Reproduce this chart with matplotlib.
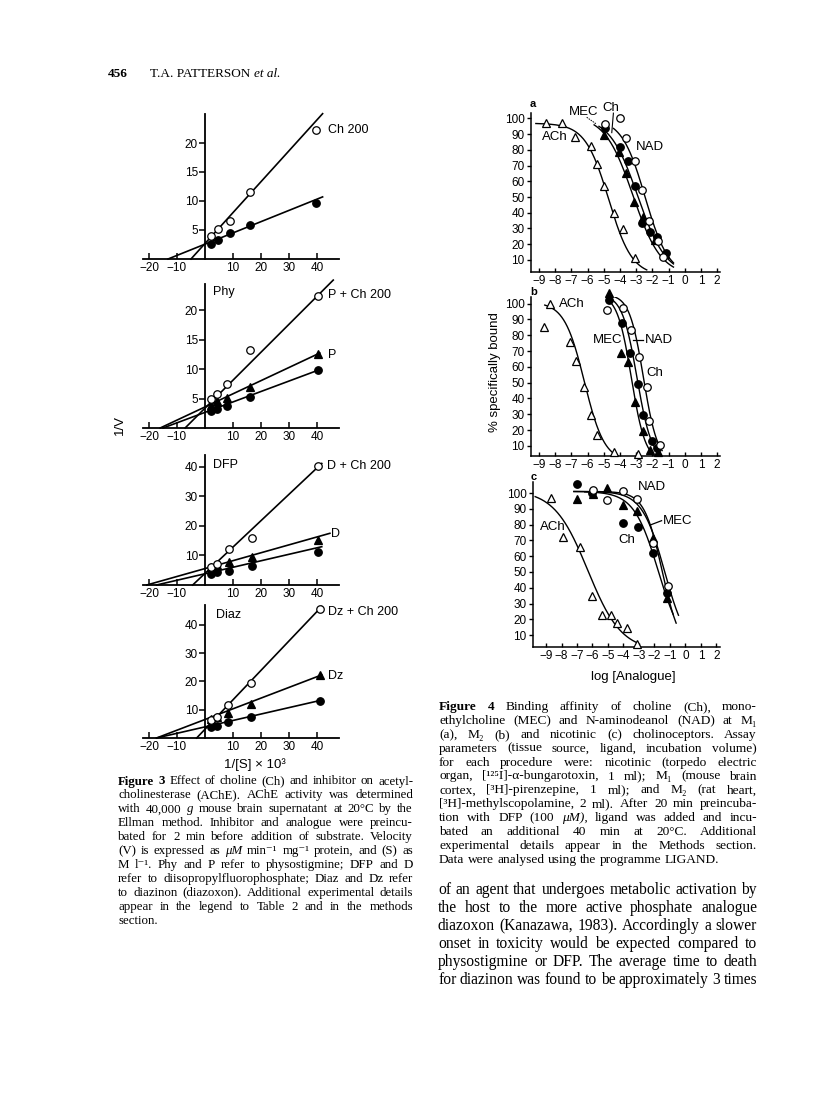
import numpy as np
import matplotlib.pyplot as plt
from matplotlib.font_manager import FontProperties

W, H = 816, 1113
SANS = ['Liberation Sans', 'DejaVu Sans']
SERIF = ['Liberation Serif', 'DejaVu Serif']
plt.rcParams['font.family'] = SANS
plt.rcParams['axes.unicode_minus'] = True

# ---------------- Figure 3 : 1/V against 1/[S] x 10^3 ----------------
# panel 1 : control (filled circles) and + Ch 200 (open circles)
x1 = [2.2, 4.5, 9.0, 16.2, 39.8]
ctrl1 = [2.6, 3.3, 4.5, 5.9, 9.6]
plus1 = [4.0, 5.2, 6.6, 11.6, 22.2]
# fitted lines: (1/Vmax intercept, slope, last x)
fit_ctrl1 = (2.56, 0.194, 42)
fit_plus1 = (2.67, 0.533, 42)

# panel 2 : physostigmine
x2 = [2.0, 4.4, 7.8, 16.2, 40.2]
ctrl2 = [2.8, 3.3, 3.8, 5.3, 9.8]
inh2 = [3.9, 4.6, 5.1, 7.0, 12.5]
plus2 = [4.9, 5.8, 7.5, 13.2, 22.4]
fit_ctrl2 = (2.65, 0.177, 41)
fit_inh2 = (3.57, 0.223, 41)
fit_plus2 = (3.37, 0.474, 45.8)

# panel 3 : DFP
x3 = [2.2, 4.4, 8.4, 16.8, 40.5]
ctrl3 = [3.7, 4.5, 4.9, 6.4, 11.3]
inh3 = [6.0, 6.8, 7.9, 9.6, 15.3]
plus3 = [6.2, 7.0, 12.2, 16.0, 40.4]
fit_ctrl3 = (3.81, 0.22, 41.7)
fit_inh3 = (5.57, 0.268, 44.6)
fit_plus3 = (3.93, 0.894, 41.7)

# panel 4 : diazinon
x4 = [2.0, 4.4, 8.3, 16.3, 41.0]
ctrl4 = [3.8, 4.2, 5.8, 7.3, 13.1]
inh4 = [6.7, 7.3, 8.7, 12.0, 22.3]
plus4 = [6.4, 7.5, 11.7, 19.3, 45.5]
fit_ctrl4 = (3.93, 0.227, 41.7)
fit_inh4 = (6.54, 0.378, 41.7)
fit_plus4 = (3.1, 1.04, 41.7)

lb_xticks = [-20, -10, 10, 20, 30, 40]

# ---------------- Figure 4 : % specifically bound vs log [Analogue] ----------------
# fits: (top, log IC50, slope, first x, last x)
a_ach_x = [-8.6, -7.6, -6.8, -5.8, -5.4, -5.0, -4.4, -3.8, -3.1]
a_ach_y = [97, 97, 88, 82.5, 71, 57, 40, 29.5, 11]
a_mec_x = [-5.0, -4.04, -3.63, -3.14, -2.56, -1.84, -1.22]
a_mec_y = [89.6, 78.9, 65.2, 46.7, 37.1, 22.7, 13.8]
a_nad_x = [-4.94, -4.02, -3.49, -3.07, -2.66, -2.17, -1.7, -1.18]
a_nad_y = [93.8, 82.1, 73, 57, 33.3, 28, 24.8, 14.6]
a_ch_x = [-4.93, -4.02, -3.61, -3.09, -2.66, -2.21, -1.64, -1.35]
a_ch_y = [96.6, 100.2, 87.4, 73.2, 54.5, 35, 22, 11.7]
a_fits = {'ACh': (97, -4.7, 0.6, -9.2, -2.35), 'MEC': (102, -3.2, 0.5, -5.6, -0.7),
          'NAD': (101, -2.9, 0.5, -5.3, -0.7), 'Ch': (100, -2.45, 0.6, -4.4, -0.7)}

b_ach_x = [-8.3, -8.7, -7.1, -6.7, -6.2, -5.8, -5.4, -4.4, -2.9]
b_ach_y = [100, 85, 76, 64, 47, 29.5, 17, 6, 5]
b_mec_x = [-4.66, -3.96, -3.49, -3.07, -2.6, -2.15, -1.64]
b_mec_y = [106.6, 68.6, 62.9, 37.6, 19.4, 7.4, 6.3]
b_nad_x = [-4.66, -3.9, -3.38, -2.87, -2.56, -2.04, -1.73]
b_nad_y = [102, 87.6, 68.6, 49, 29.6, 13.1, 8.5]
b_ch_x = [-4.82, -3.83, -3.34, -2.81, -2.35, -2.19, -1.53]
b_ch_y = [96, 97.5, 83.4, 66.5, 47.5, 25.8, 10.6]
b_fits = {'ACh': (101, -6.2, 0.7, -8.65, -3.0), 'MEC': (106, -3.3, 1.0, -4.7, -1.9),
          'NAD': (106, -2.95, 0.95, -4.7, -1.7), 'Ch': (106, -2.55, 1.0, -4.7, -1.4)}

c_ach_x = [-8.7, -7.9, -6.8, -6.0, -5.4, -4.8, -4.4, -3.8, -3.1]
c_ach_y = [97, 72, 66, 35, 23, 23, 18, 14.5, 4.5]
c_mec_x = [-7.02, -5.99, -5.08, -4.01, -3.15, -2.12, -1.21]
c_mec_y = [96, 99.4, 103, 92.4, 88.8, 71.3, 33.3]
c_nad_x = [-6.98, -6.0, -4.01, -3.04, -2.12, -1.17]
c_nad_y = [106, 100, 81.2, 78.3, 61.8, 36.9]
c_ch_x = [-5.99, -5.08, -4.01, -3.11, -2.12, -1.11]
c_ch_y = [101.9, 95.6, 101.5, 96, 68.5, 41.1]
c_fits = {'ACh': (102, -6.3, 0.4, -9.7, -3.15), 'MEC': (101, -1.5, 0.75, -7.2, -0.6),
          'NAD': (101, -1.75, 0.55, -6.5, -0.8), 'Ch': (101, -1.35, 0.6, -7.2, -0.45)}

log_ticks = list(range(-9, 3))
pct_ticks = list(range(10, 101, 10))

# ---------------- page text ----------------
fig3_caption = [
    "!Figure !3  Effect of choline (Ch) and inhibitor on acetyl-",
    "cholinesterase (AChE). AChE activity was determined",
    "with 40,000\u2009~g mouse brain supernatant at 20°C by the",
    "Ellman method. Inhibitor and analogue were preincu-",
    "bated for 2\u2009min before addition of substrate. Velocity",
    "(V) is expressed as ~μM min⁻¹\u2009mg⁻¹ protein, and (S) as",
    "M\u2009l⁻¹. Phy and P refer to physostigmine; DFP and D",
    "refer to diisopropylfluorophosphate; Diaz and Dz refer",
    "to diazinon (diazoxon). Additional experimental details",
    "appear in the legend to Table 2 and in the methods",
    "section.",
]
fig4_caption = [
    "!Figure !4  Binding affinity of choline (Ch), mono-",
    "ethylcholine (MEC) and N-aminodeanol (NAD) at M₁",
    "(a), M₂ (b) and nicotinic (c) cholinoceptors. Assay",
    "parameters (tissue source, ligand, incubation volume)",
    "for each procedure were: nicotinic (torpedo electric",
    "organ, [¹²⁵I]-α-bungarotoxin, 1\u2009ml); M₁ (mouse brain",
    "cortex, [³H]-pirenzepine, 1\u2009ml); and M₂ (rat heart,",
    "[³H]-methylscopolamine, 2\u2009ml). After 20\u2009min preincuba-",
    "tion with DFP (100\u2009~μM), ligand was added and incu-",
    "bated an additional 40\u2009min at 20°C. Additional",
    "experimental details appear in the Methods section.",
    "Data were analysed using the programme LIGAND.",
]
body_text = [
    "of an agent that undergoes metabolic activation by",
    "the host to the more active phosphate analogue",
    "diazoxon (Kanazawa, 1983). Accordingly a slower",
    "onset in toxicity would be expected compared to",
    "physostigmine or DFP. The average time to death",
    "for diazinon was found to be approximately 3 times",
]

fig = plt.figure(figsize=(W / 100, H / 100), dpi=100)


def px_axes(left, top, right, bottom):
    return fig.add_axes([left / W, 1 - bottom / H, (right - left) / W, (bottom - top) / H])


def px_text(x, y, s, **kw):
    return fig.text(x / W, 1 - y / H, s, **kw)


def minus(v):
    return str(v).replace('-', '\u2212')


# ---- Figure 3 panels ----
def lb_panel(top, bottom, ymax, yticks, x, series, labels):
    ax = px_axes(143.4, top, 339.4, bottom)
    ax.set_xlim(-22, 48)
    ax.set_ylim(0, ymax)
    ax.patch.set_visible(False)
    for s in ('top', 'right'):
        ax.spines[s].set_visible(False)
    ax.spines['left'].set_position(('data', 0))
    ax.spines['left'].set_linewidth(1.3)
    ax.spines['bottom'].set_linewidth(1.3)
    ax.set_xticks(lb_xticks)
    ax.set_xticklabels([minus(v) for v in lb_xticks])
    ax.set_yticks(yticks)
    ax.tick_params(axis='x', direction='in', length=4, width=1.1, labelsize=8.5, pad=2)
    ax.tick_params(axis='y', direction='out', length=4, width=1.1, labelsize=8.5, pad=1)
    for y, fit, marker, face in series:
        a, b, xend = fit
        xs = np.array([-a / b, xend])
        ax.plot(xs, a + b * xs, color='black', lw=1.2, clip_on=False, zorder=2)
        ax.plot(x, y, ls='none', marker=marker, ms=5.4, mfc=face, mec='black',
                mew=0.9, clip_on=False, zorder=3)
    for tx, ty, s in labels:
        ax.text(tx, ty, s, fontsize=9, ha='left', va='center')
    return ax


OPEN = ('o', 'white')
FILL = ('o', 'black')
TRI = ('^', 'black')

lb_panel(114, 259, 25, [5, 10, 15, 20], x1,
         [(ctrl1, fit_ctrl1, *FILL), (plus1, fit_plus1, *OPEN)],
         [(44, 22.2, 'Ch 200')])
lb_panel(283.5, 428, 24.5, [5, 10, 15, 20], x2,
         [(ctrl2, fit_ctrl2, *FILL), (inh2, fit_inh2, *TRI), (plus2, fit_plus2, *OPEN)],
         [(2.9, 23, 'Phy'), (44, 22.5, 'P + Ch 200'), (44, 12.4, 'P')])
lb_panel(455.2, 585, 44, [10, 20, 30, 40], x3,
         [(ctrl3, fit_ctrl3, *FILL), (inh3, fit_inh3, *TRI), (plus3, fit_plus3, *OPEN)],
         [(2.9, 40.7, 'DFP'), (43.5, 40.3, 'D + Ch 200'), (45, 17.3, 'D')])
lb_panel(605, 738, 47, [10, 20, 30, 40], x4,
         [(ctrl4, fit_ctrl4, *FILL), (inh4, fit_inh4, *TRI), (plus4, fit_plus4, *OPEN)],
         [(3.9, 43.5, 'Diaz'), (44, 44.5, 'Dz + Ch 200'), (44, 22, 'Dz')])

px_text(120, 425, '1/V', rotation=90, fontsize=9.5, ha='center', va='center')
px_text(255, 765, '1/[S] × 10³', fontsize=9.5, ha='center', va='center')

# ---- Figure 4 panels ----
STYLE = {'ACh': ('^', 'white'), 'MEC': ('^', 'black'), 'NAD': ('o', 'black'), 'Ch': ('o', 'white')}


def hill(x, top, log_ic50, slope):
    return top / (1 + 10 ** ((x - log_ic50) * slope))


def binding_panel(box, xlim, ylim, data, fits):
    ax = px_axes(*box)
    ax.set_xlim(*xlim)
    ax.set_ylim(*ylim)
    ax.patch.set_visible(False)
    for s in ('top', 'right'):
        ax.spines[s].set_visible(False)
    ax.spines['left'].set_linewidth(1.1)
    ax.spines['bottom'].set_linewidth(1.1)
    ax.set_xticks(log_ticks)
    ax.set_xticklabels([minus(v) for v in log_ticks])
    ax.set_yticks(pct_ticks)
    ax.tick_params(axis='x', direction='in', length=3, width=1, labelsize=8.5, pad=2)
    ax.tick_params(axis='y', direction='out', length=3, width=1, labelsize=8.5, pad=1.5)
    for name, (x, y) in data.items():
        top, ic50, slope, x0, x_end = fits[name]
        xs = np.linspace(x0, x_end, 200)
        ax.plot(xs, hill(xs, top, ic50, slope), color='black', lw=1.0, zorder=2)
        marker, face = STYLE[name]
        ax.plot(x, y, ls='none', marker=marker, ms=5.4, mfc=face, mec='black',
                mew=0.9, clip_on=False, zorder=3)
    return ax


ax_a = binding_panel((531, 113, 720.4, 272), (-9.5, 2.2), (2.3, 103.5),
                     {'ACh': (a_ach_x, a_ach_y), 'MEC': (a_mec_x, a_mec_y),
                      'NAD': (a_nad_x, a_nad_y), 'Ch': (a_ch_x, a_ch_y)}, a_fits)
ax_a.text(-8.83, 88.1, 'ACh', fontsize=9.5, va='center')
ax_a.text(-7.13, 104.4, 'MEC', fontsize=9.5, va='center')
ax_a.text(-5.07, 106.6, 'Ch', fontsize=9.5, va='center')
ax_a.text(-3.01, 82.1, 'NAD', fontsize=9.5, va='center')
ax_a.plot([-6.06, -5.48], [100.8, 96.6], color='black', lw=0.7, ls=(0, (1.5, 1)), clip_on=False)
ax_a.plot([-4.41, -4.51], [103.4, 91], color='black', lw=0.8, clip_on=False)
px_text(530, 104, 'a', fontsize=8, fontweight='bold', va='center')

ax_b = binding_panel((531, 297, 720.4, 456), (-9.5, 2.2), (3.6, 104.2),
                     {'ACh': (b_ach_x, b_ach_y), 'MEC': (b_mec_x, b_mec_y),
                      'NAD': (b_nad_x, b_nad_y), 'Ch': (b_ch_x, b_ch_y)}, b_fits)
ax_b.text(-7.8, 99.8, 'ACh', fontsize=9.5, va='center')
ax_b.text(-5.65, 77, 'MEC', fontsize=9.5, va='center')
ax_b.text(-2.46, 77, 'NAD', fontsize=9.5, va='center')
ax_b.text(-2.4, 56, 'Ch', fontsize=9.5, va='center')
ax_b.plot([-3.18, -2.56], [77, 77], color='black', lw=0.9)
px_text(530, 292, 'b', fontsize=8, fontweight='bold', va='center')
px_text(495, 372, '% specifically bound', rotation=90, fontsize=9.5, ha='center', va='center')

ax_c = binding_panel((533, 482, 720, 647), (-9.84, 2.23), (2.5, 107),
                     {'ACh': (c_ach_x, c_ach_y), 'MEC': (c_mec_x, c_mec_y),
                      'NAD': (c_nad_x, c_nad_y), 'Ch': (c_ch_x, c_ch_y)}, c_fits)
ax_c.text(-3.06, 103.8, 'NAD', fontsize=9.5, va='center')
ax_c.text(-1.47, 82.5, 'MEC', fontsize=9.5, va='center')
ax_c.text(-9.39, 78.7, 'ACh', fontsize=9.5, va='center')
ax_c.text(-4.34, 70.3, 'Ch', fontsize=9.5, va='center')
ax_c.plot([-2.29, -1.54], [79.7, 82.5], color='black', lw=0.9)
px_text(531, 477, 'c', fontsize=8, fontweight='bold', va='center')
px_text(633, 677, 'log [Analogue]', fontsize=9.5, ha='center', va='center')

# ---- page text ----
renderer = fig.canvas.get_renderer()


def props(style, size):
    return FontProperties(family=SERIF, size=size,
                          weight='bold' if style == 'b' else 'normal',
                          style='italic' if style == 'i' else 'normal')


def width(s, p):
    return renderer.get_text_width_height_descent(s, p, ismath=False)[0]


def text_block(lines, x0, x1, y0, step, size, last_flush=True):
    for i, line in enumerate(lines):
        words = []
        for w in line.split():
            if w.startswith('!'):
                words.append((w[1:], 'b'))
            elif w.startswith('~'):
                words.append((w[1:], 'i'))
            else:
                words.append((w, 'n'))
        ps = [props(s, size) for _, s in words]
        ws = [width(w, p) for (w, _), p in zip(words, ps)]
        space = width('a a', ps[0]) - width('aa', ps[0])
        if (i == len(lines) - 1 and last_flush) or len(words) == 1:
            gap = space
        else:
            gap = max((x1 - x0 - sum(ws)) / (len(words) - 1), space * 0.6)
        x = x0
        y = y0 + i * step
        for (w, _), p, wd in zip(words, ps, ws):
            px_text(x, y, w, fontproperties=p, ha='left', va='baseline')
            x += wd + gap


# running head
hp = props('b', 9.5)
px_text(108, 77, '456', fontproperties=hp, va='baseline')
np_ = props('n', 9.5)
px_text(150, 77, 'T.A. PATTERSON', fontproperties=np_, va='baseline')
px_text(150 + width('T.A. PATTERSON ', np_), 77, 'et al.',
        fontproperties=props('i', 9.5), va='baseline')

text_block(fig3_caption, 118, 413, 784.5, 13.9, 9.3)
text_block(fig4_caption, 439, 757, 710, 13.9, 9.6)
text_block(body_text, 438, 757, 894, 18, 11.2, last_flush=False)

fig.savefig('out.png', dpi=100)
